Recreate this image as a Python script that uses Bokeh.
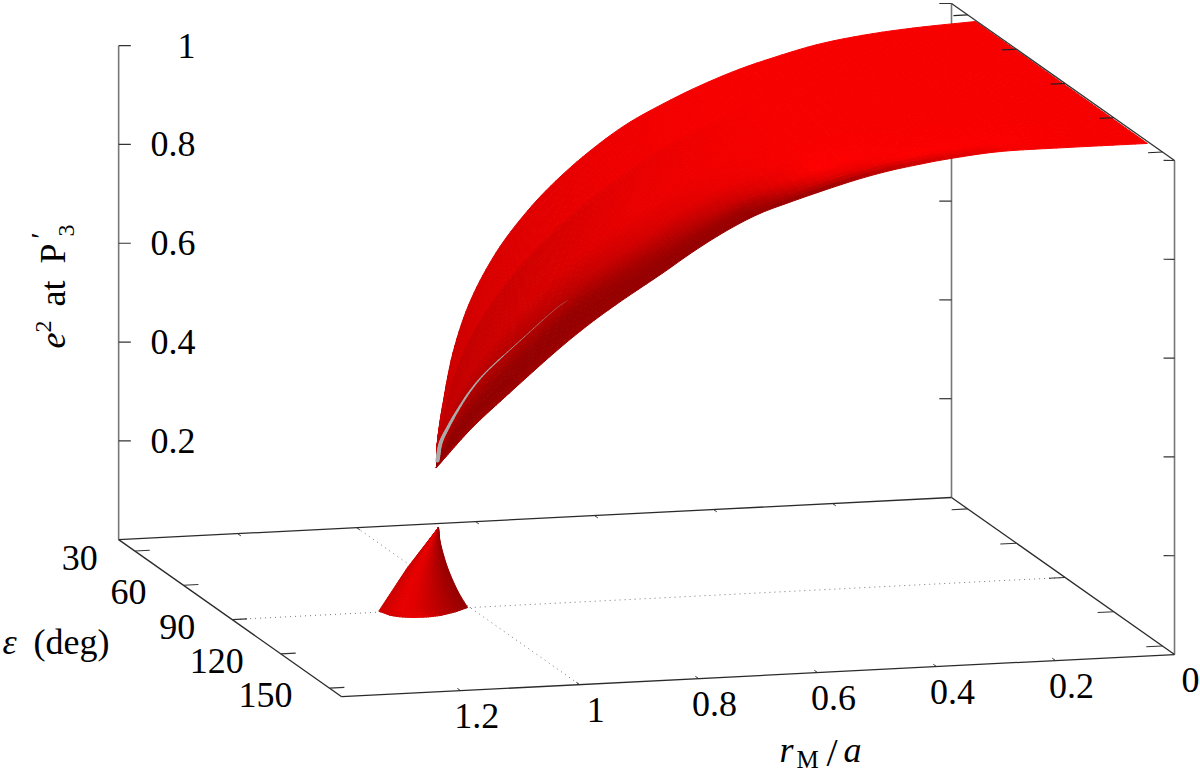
import numpy as np
from bokeh.plotting import figure
from bokeh.models import Range1d, ColumnDataSource
from bokeh.embed import file_html
from bokeh.resources import INLINE
from bokeh.core.properties import value

# ---- axes -------------------------------------------------------------
R_MAX, EPS_MIN, EPS_MAX, Z_MAX = 1.4, 20.0, 157.5, 1.0
r_ticks = [0, 0.2, 0.4, 0.6, 0.8, 1.0, 1.2]
r_labels = ["0", "0.2", "0.4", "0.6", "0.8", "1", "1.2"]
eps_ticks = [30, 60, 90, 120, 150]
eps_labels = ["30", "60", "90", "120", "150"]
z_ticks = [0.2, 0.4, 0.6, 0.8, 1.0]
z_labels = ["0.2", "0.4", "0.6", "0.8", "1"]

# ---- upper sheet: back (eps small) edge ---------------------------------
back_r = [0.8739, 0.8727, 0.8635, 0.848, 0.8208, 0.7768, 0.7227, 0.6686, 0.6142,
          0.5601, 0.4942, 0.4465, 0.3937, 0.3379, 0.2552, 0.174, 0.094, 0.0]
back_eps = [23, 23.2, 23.5, 24, 24.5, 25, 25.5, 26, 27, 27.5, 28, 29, 30, 30.5, 31, 32, 33.5, 34.8]
back_z = [0.121, 0.176, 0.257, 0.358, 0.459, 0.559, 0.644, 0.710, 0.767,
          0.812, 0.8533, 0.882, 0.9095, 0.9315, 0.958, 0.9756, 0.9883, 0.9978]
# front (eps large) edge
front_r = [0.8739, 0.8304, 0.7913, 0.729, 0.6882, 0.6491, 0.5986, 0.5696, 0.5305, 0.4897,
           0.4506, 0.4115, 0.3707, 0.3343, 0.2979, 0.2689, 0.2121, 0.1185, 0.0]
front_eps = [23, 28, 34, 42, 48, 54, 62, 68, 74, 80, 86, 92, 98, 105, 112, 118, 128, 135, 140.8]
front_z = [0.121, 0.2068, 0.281, 0.3868, 0.4548, 0.5149, 0.589, 0.6396, 0.6936, 0.7414,
           0.7782, 0.8129, 0.8467, 0.8788, 0.9069, 0.9291, 0.963, 0.9816, 0.996]
# shading of the sheet: red level by r (rows) and fraction across it (columns)
shade_r = [0.874, 0.8, 0.7, 0.6, 0.5, 0.4, 0.3, 0.2, 0.1, 0.0]
shade_s = [0.0, 0.27, 0.29, 0.55, 0.72, 0.85, 0.93, 1.0]
shade = [
    [200, 205, 190, 195, 175, 148, 145, 165],
    [215, 218, 200, 205, 178, 150, 147, 160],
    [228, 230, 215, 220, 190, 152, 150, 158],
    [238, 240, 230, 235, 215, 170, 150, 150],
    [245, 246, 240, 243, 236, 205, 160, 150],
    [247, 247, 247, 247, 250, 255, 225, 150],
    [247, 247, 247, 247, 248, 250, 255, 200],
    [247, 247, 247, 247, 248, 250, 252, 245],
    [247, 247, 247, 247, 247, 248, 248, 248],
    [247, 247, 247, 247, 247, 247, 247, 247],
]
# grey sliver seen through the sheet
grey_r = [0.8722, 0.8698, 0.8608, 0.8495, 0.8331, 0.8127, 0.7681, 0.7263, 0.7109]
grey_eps = [23, 24, 25, 27, 29, 32, 36, 41, 44]
grey_z = [0.135, 0.172, 0.204, 0.244, 0.288, 0.334, 0.402, 0.471, 0.498]
grey_width = [4.2, 3.6, 3.0, 2.3, 1.7, 1.2, 0.7, 0.4, 0.2]

# ---- floor patch (z = 0) ------------------------------------------------
floor_left_eps = [23.3, 54.7, 89.2]
floor_left_r = [0.8714, 1.009, 1.1514]
floor_right_eps = [23.3, 36.5, 56.4, 75.6, 89.9]
floor_right_r = [0.8714, 0.9038, 0.9463, 0.9819, 1.004]
floor_arc_s = [0.0, 0.06, 0.15, 0.27, 0.43, 0.59, 0.8, 1.0]
floor_arc_eps = [89.2, 93.2, 94.9, 95.8, 96.0, 95.3, 93.0, 89.9]
floor_shade_s = [0.0, 0.1, 0.25, 0.4, 0.55, 0.7, 0.85, 1.0]
floor_shade = [205, 215, 232, 225, 205, 185, 165, 150]


def px(r, eps):
    return 951 - 594.9 * np.asarray(r, float) + 1.622 * (np.asarray(eps, float) - EPS_MIN)


def py(r, eps, z=0.0):
    return 497 + 30.1 * np.asarray(r, float) + 1.142 * (np.asarray(eps, float) - EPS_MIN) - 494 * np.asarray(z, float)


def smooth(values, n=30):
    """Catmull-Rom drawing of a read edge, through every read value."""
    v = np.asarray(values, float)
    q = np.concatenate([[2 * v[0] - v[1]], v, [2 * v[-1] - v[-2]]])
    out = []
    for i in range(1, len(q) - 2):
        t = np.linspace(0, 1, n, endpoint=False)
        out.append(0.5 * (2 * q[i] + (q[i + 1] - q[i - 1]) * t
                          + (2 * q[i - 1] - 5 * q[i] + 4 * q[i + 1] - q[i + 2]) * t ** 2
                          + (3 * q[i] - q[i - 1] - 3 * q[i + 1] + q[i + 2]) * t ** 3))
    out.append(v[-1:])
    return np.concatenate(out)


p = figure(width=1200, height=775, x_range=Range1d(0, 1200), y_range=Range1d(775, 0),
           output_backend="svg", toolbar_location=None, min_border=0)
p.axis.visible = False
p.grid.visible = False
p.outline_line_color = None
p.background_fill_color = "white"
p.border_fill_color = "white"

FONT = value("Liberation Serif")
AXC = "#2a2a2a"
VERTC = "#777777"
TXT = "#000000"
BASE_K = 0.36


def seg(r0, e0, z0, r1, e1, z1, color=AXC, width=1.3, dash="solid"):
    p.line([float(px(r0, e0)), float(px(r1, e1))],
           [float(py(r0, e0, z0)), float(py(r1, e1, z1))],
           line_color=color, line_width=width, line_dash=dash)


def txt(x, y, s, size=36, style="normal", align="left", angle=0.0):
    # x, y is the point on the text's baseline
    if angle:
        x = x - BASE_K * size
    else:
        y = y - BASE_K * size
    p.text(x=[x], y=[y], text=[s], text_font=FONT, text_font_size=f"{size}px",
           text_font_style=style, text_align=align, text_baseline="alphabetic",
           text_color=TXT, angle=angle)


# ---- dotted grid on the floor -------------------------------------------
seg(1.0, EPS_MIN, 0, 1.0, EPS_MAX, 0, "#777777", 1.0, "1 4")
seg(0, 90, 0, R_MAX, 90, 0, "#777777", 1.0, "1 4")

# ---- box behind the surface ---------------------------------------------
seg(0, EPS_MIN, 0, 0, EPS_MIN, Z_MAX, VERTC, 1.6)
seg(R_MAX, EPS_MIN, 0, R_MAX, EPS_MIN, Z_MAX, VERTC, 1.6)
seg(0, EPS_MAX, 0, 0, EPS_MAX, Z_MAX, VERTC, 1.6)
seg(R_MAX, EPS_MIN, 0, 0, EPS_MIN, 0)
seg(R_MAX, EPS_MIN, 0, R_MAX, EPS_MAX, 0)
seg(R_MAX, EPS_MAX, 0, 0, EPS_MAX, 0)
seg(0, EPS_MIN, 0, 0, EPS_MAX, 0)

# z ticks (flat on the page)
TK = 0.0205
dz = TK * 30.1 / 494
for z in z_ticks:
    seg(R_MAX, EPS_MIN, z, R_MAX - TK, EPS_MIN, z - dz, "#333333", 1.2)
    seg(0, EPS_MIN, z, TK, EPS_MIN, z + dz, "#333333", 1.2)
    seg(0, EPS_MAX, z, TK * 0.9, EPS_MAX, z + dz, "#333333", 1.2)

# r ticks
for r in r_ticks[1:]:
    seg(r, EPS_MIN, 0, r, EPS_MIN + 2, 0, "#333333", 1.0)
    seg(r, EPS_MAX, 0, r, EPS_MAX - 2, 0, "#333333", 1.0)

# eps ticks on the floor
for e in eps_ticks:
    seg(R_MAX, e, 0, R_MAX - 0.025, e, 0, "#333333", 1.1)
    seg(0, e, 0, 0.027, e, 0, "#333333", 1.1)

# ---- floor patch --------------------------------------------------------
xs, ys, cols = [], [], []
us = np.linspace(0, 1, 31)
ss = np.linspace(0, 1, 37)
rt_e, rt_r = smooth(floor_right_eps), smooth(floor_right_r)


def floor_pt(u, s):
    earc = np.interp(s, floor_arc_s, floor_arc_eps)
    eps = floor_left_eps[0] + u * (earc - floor_left_eps[0])
    rl = np.interp(eps, floor_left_eps, floor_left_r)
    rr = np.interp(eps, rt_e, rt_r)
    r = rl + s * (rr - rl)
    return float(px(r, eps)), float(py(r, eps))


for i in range(len(us) - 1):
    for j in range(len(ss) - 1):
        c = [floor_pt(us[i], ss[j]), floor_pt(us[i + 1], ss[j]),
             floor_pt(us[i + 1], ss[j + 1]), floor_pt(us[i], ss[j + 1])]
        xs.append([q[0] for q in c])
        ys.append([q[1] for q in c])
        lv = int(np.interp(0.5 * (ss[j] + ss[j + 1]), floor_shade_s, floor_shade))
        cols.append("#%02x0000" % lv)
p.patches(xs, ys, fill_color=cols, line_color=cols, line_width=1.0)

# ---- upper sheet --------------------------------------------------------
br, be, bz = smooth(back_r)[::-1], smooth(back_eps)[::-1], smooth(back_z)[::-1]
fr, fe, fz = smooth(front_r)[::-1], smooth(front_eps)[::-1], smooth(front_z)[::-1]
br, fr = np.maximum.accumulate(br), np.maximum.accumulate(fr)
sr = np.array(shade_r)[::-1]
sh = np.array(shade, float)[::-1]
tip = back_r[0]
uu = np.linspace(0, 1, 101)
rows = tip * (1 - uu ** 2)
sgrid = np.unique(np.concatenate([np.linspace(0, 1, 41), [0.27, 0.29]]))


def sheet_pt(r, s):
    e = (1 - s) * np.interp(r, br, be) + s * np.interp(r, fr, fe)
    z = (1 - s) * np.interp(r, br, bz) + s * np.interp(r, fr, fz)
    return float(px(r, e)), float(py(r, e, z))


def sheet_level(r, s):
    col = [np.interp(r, sr, sh[:, k]) for k in range(sh.shape[1])]
    return int(np.interp(s, shade_s, col))


xs, ys, cols = [], [], []
for i in range(len(rows) - 1):
    for j in range(len(sgrid) - 1):
        c = [sheet_pt(rows[i], sgrid[j]), sheet_pt(rows[i + 1], sgrid[j]),
             sheet_pt(rows[i + 1], sgrid[j + 1]), sheet_pt(rows[i], sgrid[j + 1])]
        xs.append([q[0] for q in c])
        ys.append([q[1] for q in c])
        lv = sheet_level(0.5 * (rows[i] + rows[i + 1]), 0.5 * (sgrid[j] + sgrid[j + 1]))
        cols.append("#%02x0000" % lv)
p.patches(xs, ys, fill_color=cols, line_color=cols, line_width=1.0)

# grey sliver
g_r, g_e, g_z = smooth(grey_r, 8), smooth(grey_eps, 8), smooth(grey_z, 8)
g_w = smooth(grey_width, 8)
gx, gy = px(g_r, g_e), py(g_r, g_e, g_z)
for i in range(len(gx) - 1):
    p.line([float(gx[i]), float(gx[i + 1])], [float(gy[i]), float(gy[i + 1])],
           line_color="#aaaaaa", line_width=max(float(g_w[i]), 0.2), line_cap="round")

# top edge and its ticks stay over the surface
seg(0, EPS_MIN, Z_MAX, 0, EPS_MAX, Z_MAX, "#333333", 1.3)
for e in eps_ticks:
    seg(0, e, Z_MAX, 0.024, e, Z_MAX, "#222222", 1.1)

# ---- tick labels --------------------------------------------------------
src = ColumnDataSource(dict(x=[195] * len(z_ticks), y=py(R_MAX, EPS_MIN, z_ticks).tolist(), t=z_labels))
common = dict(text_font=FONT, text_font_size="36px", text_color=TXT)
p.text("x", "y", text="t", source=src, text_align="right", text_baseline="middle", **common)

src = ColumnDataSource(dict(x=(px(R_MAX, eps_ticks) - 37).tolist(), y=(py(R_MAX, eps_ticks) + 7).tolist(), t=eps_labels))
p.text("x", "y", text="t", source=src, text_align="right", text_baseline="middle", **common)

src = ColumnDataSource(dict(x=(px(r_ticks, EPS_MAX) + 16).tolist(), y=(py(r_ticks, EPS_MAX) + 25).tolist(), t=r_labels))
p.text("x", "y", text="t", source=src, text_align="center", text_baseline="middle", **common)

# ---- axis titles --------------------------------------------------------
txt(779, 762, "r", 36, "italic")
txt(796, 768, "M", 25)
txt(826, 766, "/", 40)
txt(843, 762, "a", 36, "italic")

txt(2, 654, "ε", 36, "italic")
txt(33, 654, "(deg)", 36)

A = np.pi / 2
txt(65, 348, "e", 36, "italic", angle=A)
txt(52, 332, "2", 24, angle=A)
txt(65, 306, "at", 36, angle=A)
txt(65, 263, "P", 36, angle=A)
txt(50, 238, "′", 28, angle=A)
txt(75, 236, "3", 24, angle=A)

open("out.html", "w").write(file_html(p, INLINE))
